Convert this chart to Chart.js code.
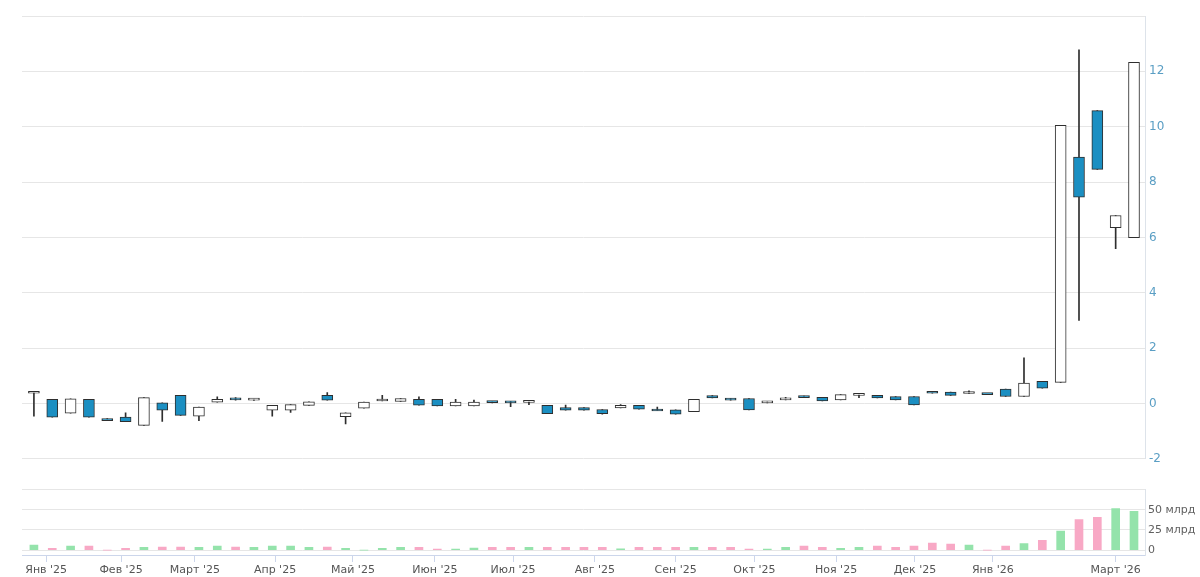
<!DOCTYPE html>
<html>
<head>
<meta charset="utf-8">
<script src="https://cdn.jsdelivr.net/npm/chart.js@4"></script>
<style>
  html, body { margin: 0; padding: 0; background: #ffffff; }
  #wrap { position: relative; width: 1200px; height: 577px; }
  #priceBox { position: absolute; left: 0; top: 0; width: 1200px; height: 470px; }
  #volBox { position: absolute; left: 0; top: 480px; width: 1200px; height: 97px; }
</style>
</head>
<body>
<div id="wrap">
  <div id="priceBox"><canvas id="price-chart"></canvas></div>
  <div id="volBox"><canvas id="volume-chart"></canvas></div>
</div>
<script>
// weekly candles, index 0..60
const opens = [0.37, 0.15, -0.35, 0.15, -0.55, -0.49, -0.79, 0.02, 0.29, -0.46,
  0.05, 0.19, 0.12, -0.24, -0.24, -0.07, 0.29, -0.48, -0.17, 0.09,
  0.07, 0.15, 0.15, -0.09, -0.09, 0.05, 0.08, 0.04, -0.07, -0.15,
  -0.15, -0.22, -0.16, -0.07, -0.2, -0.23, -0.3, 0.28, 0.18, 0.18,
  0.02, 0.13, 0.27, 0.22, 0.13, 0.29, 0.29, 0.25, 0.25, 0.38,
  0.41, 0.36, 0.33, 0.52, 0.25, 0.8, 0.76, 8.9, 10.58, 6.35, 5.99];
const highs = [0.39, 0.15, 0.17, 0.15, -0.55, -0.34, 0.21, 0.02, 0.29, -0.13,
  0.24, 0.21, 0.16, -0.07, -0.04, 0.06, 0.39, -0.34, 0.05, 0.29,
  0.18, 0.24, 0.15, 0.15, 0.12, 0.06, 0.08, 0.11, -0.07, -0.06,
  -0.15, -0.22, -0.04, -0.07, -0.13, -0.23, 0.15, 0.28, 0.18, 0.18,
  0.08, 0.22, 0.27, 0.22, 0.32, 0.33, 0.29, 0.25, 0.25, 0.38,
  0.41, 0.46, 0.33, 0.52, 1.65, 0.8, 10.05, 12.78, 10.58, 6.79, 12.33];
const lows = [-0.46, -0.5, -0.35, -0.5, -0.57, -0.66, -0.79, -0.65, -0.43, -0.62,
  0.05, 0.12, 0.11, -0.46, -0.32, -0.07, 0.12, -0.74, -0.17, 0.09,
  0.07, -0.06, -0.09, -0.09, -0.09, 0.02, -0.12, -0.04, -0.37, -0.24,
  -0.24, -0.39, -0.16, -0.21, -0.24, -0.39, -0.3, 0.2, 0.12, -0.23,
  0.02, 0.13, 0.21, 0.09, 0.13, 0.21, 0.2, 0.13, -0.05, 0.37,
  0.29, 0.36, 0.32, 0.25, 0.25, 0.55, 0.76, 3.0, 8.46, 5.59, 5.99];
const closes = [0.39, -0.5, 0.17, -0.5, -0.57, -0.66, 0.21, -0.24, -0.43, -0.13,
  0.15, 0.13, 0.14, -0.07, -0.04, 0.06, 0.12, -0.34, 0.05, 0.15,
  0.18, -0.06, -0.09, 0.05, 0.05, 0.03, 0.02, 0.05, -0.37, -0.24,
  -0.24, -0.37, -0.07, -0.21, -0.24, -0.39, 0.15, 0.2, 0.12, -0.23,
  0.08, 0.18, 0.21, 0.09, 0.32, 0.33, 0.2, 0.13, -0.05, 0.37,
  0.29, 0.37, 0.32, 0.25, 0.74, 0.55, 10.05, 7.45, 8.46, 6.79, 12.33];
// volume, млрд
const volumes = [6.1, 2, 4.9, 4.9, 0, 2, 3.3, 3.7, 3.7, 3.3,
  4.9, 3.7, 3.3, 4.9, 4.9, 3.3, 3.7, 2, 0, 2,
  3.3, 3.3, 1.2, 1.2, 2.4, 3.3, 3.3, 3.3, 3.3, 3.3,
  3.3, 3.3, 1.6, 3.3, 3.3, 3.3, 3.3, 3.3, 3.3, 1.2,
  1.2, 3.3, 4.9, 3.3, 2, 3.3, 4.9, 3.3, 4.9, 8.5,
  7.3, 6.1, 0, 4.9, 8.1, 12.2, 23.6, 37.8, 40.7, 51.6, 48];

// month labels and where they fall on the candle index axis
const monthLabels = ["Янв '25", "Фев '25", "Март '25", "Апр '25", "Май '25", "Июн '25",
  "Июл '25", "Авг '25", "Сен '25", "Окт '25", "Ноя '25", "Дек '25", "Янв '26", "Март '26"];
const monthPositions = [0.67, 4.75, 8.78, 13.15, 17.4, 21.87, 26.13, 30.6, 35.0, 39.3,
  43.75, 48.05, 52.3, 59.0];

const priceTicks = [-2, 0, 2, 4, 6, 8, 10, 12, 14];
const volumeTicks = [0, 25, 50, 75];

const X_MIN = -0.65;
const X_MAX = 60.6;
const AXIS_W = 55;

Chart.defaults.font.family = "'DejaVu Sans', sans-serif";
Chart.defaults.font.size = 11;
Chart.defaults.animation = false;

const isUp = opens.map((o, i) => closes[i] >= o);

const wickData = highs.map((h, i) => ({ x: i, y: [lows[i], h] }));
const bodyData = opens.map((o, i) => ({ x: i, y: [o, closes[i]] }));
const volData = volumes.map((v, i) => ({ x: i, y: v }));

// ===================================
// Price (candles)
// ===================================
new Chart(document.getElementById("price-chart"), {
  type: "bar",
  data: {
    datasets: [
      {
        label: "body",
        data: bodyData,
        order: 1,
        grouped: false,
        barThickness: 11,
        minBarLength: 2,
        backgroundColor: isUp.map(u => (u ? "#ffffff" : "#1b8fc2")),
        borderColor: "#2e2e2e",
        borderWidth: 1,
        borderSkipped: false,
      },
      {
        label: "wick",
        data: wickData,
        order: 2,
        grouped: false,
        barThickness: 1,
        backgroundColor: "#2e2e2e",
        borderWidth: 0,
      },
    ],
  },
  options: {
    responsive: true,
    maintainAspectRatio: false,
    layout: { padding: { left: 22, top: 16, bottom: 11, right: 0 } },
    plugins: { legend: { display: false }, tooltip: { enabled: false } },
    scales: {
      x: {
        type: "linear",
        min: X_MIN,
        max: X_MAX,
        offset: false,
        display: false,
      },
      y: {
        position: "right",
        min: -2,
        max: 14,
        afterBuildTicks: (s) => { s.ticks = priceTicks.map(v => ({ value: v })); },
        afterFit: (s) => { s.width = AXIS_W; },
        grid: { color: "#e6e6e6", drawTicks: false },
        border: { display: true, color: "#dde3ea" },
        ticks: {
          color: "#5a9ec4",
          padding: 4,
          font: { size: 12 },
          callback: (v) => (v === 14 ? "" : String(v)),
        },
      },
    },
  },
});

// ===================================
// Volume
// ===================================
new Chart(document.getElementById("volume-chart"), {
  type: "bar",
  data: {
    datasets: [
      {
        label: "volume",
        data: volData,
        barThickness: 8,
        backgroundColor: isUp.map(u => (u ? "#94e3ab" : "#f8a8c5")),
        borderWidth: 0,
      },
    ],
  },
  options: {
    responsive: true,
    maintainAspectRatio: false,
    layout: { padding: { left: 22, top: 9, bottom: 0, right: 0 } },
    plugins: { legend: { display: false }, tooltip: { enabled: false } },
    scales: {
      x: {
        type: "linear",
        min: X_MIN,
        max: X_MAX,
        offset: false,
        afterBuildTicks: (s) => { s.ticks = monthPositions.map(v => ({ value: v })); },
        afterFit: (s) => { s.height = 22; },
        grid: { offset: false, drawOnChartArea: false, drawTicks: true, tickLength: 7, color: "#ccd6eb" },
        border: { display: true, color: "#ccd6eb" },
        ticks: {
          color: "#555555",
          padding: 2,
          maxRotation: 0,
          autoSkip: false,
          callback: (v, idx) => monthLabels[idx],
        },
      },
      y: {
        position: "right",
        min: -75 * 5 / 61,
        max: 75,
        afterBuildTicks: (s) => { s.ticks = volumeTicks.map(v => ({ value: v })); },
        afterFit: (s) => { s.width = AXIS_W; },
        grid: { color: "#e6e6e6", drawTicks: false },
        border: { display: true, color: "#dde3ea" },
        ticks: {
          color: "#606060",
          padding: 3,
          callback: (v) => (v === 75 ? "" : v === 0 ? "0" : v + " млрд"),
        },
      },
    },
  },
});
</script>
</body>
</html>
